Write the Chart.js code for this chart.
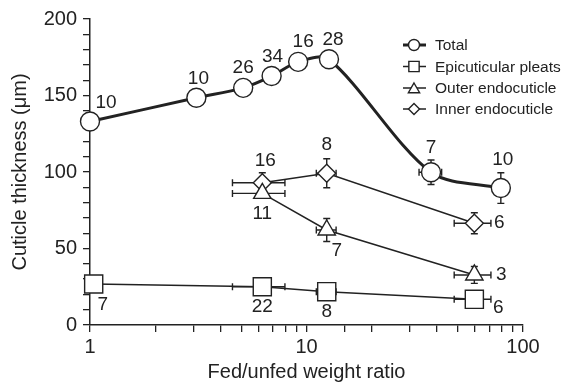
<!DOCTYPE html>
<html>
<head>
<meta charset="utf-8">
<script src="https://cdn.jsdelivr.net/npm/chart.js@4.4.1/dist/chart.umd.min.js"></script>
<style>
  html, body { margin: 0; padding: 0; background: #fff; }
  #wrap { width: 566px; height: 385px; }
</style>
</head>
<body>
<div id="wrap"><canvas id="chart" width="566" height="385"></canvas></div>
<script>
// values
const totalX = [1, 3.1, 5.1, 6.9, 9.15, 12.7, 37.6, 79];
const totalY = [133, 148.5, 155, 162.7, 172, 173.7, 99.8, 89.5];
const totalN = [10, 10, 26, 34, 16, 28, 7, 10];
const totalErrX = [0, 0, 0, 0, 0, 0, 4.5, 0];
const totalErrY = [0, 0, 0, 0, 0, 0, 8, 10];

const pleatsX = [1.04, 6.25, 12.4, 59.6];
const pleatsY = [26.8, 25, 21.8, 16.8];
const pleatsN = [7, 22, 8, 6];
const pleatsErrX = [0, 1.7, 1.3, 11.5];
const pleatsErrY = [0, 0, 0, 0];

const outerX = [6.25, 12.4, 59.6];
const outerY = [86, 62.1, 32.7];
const outerN = [11, 7, 3];
const outerErrX = [1.7, 1.3, 11.5];
const outerErrY = [0, 7.5, 5.5];

const innerX = [6.25, 12.4, 59.6];
const innerY = [93, 99.2, 66.5];
const innerN = [16, 8, 6];
const innerErrX = [1.7, 1.3, 11.5];
const innerErrY = [6.5, 9.5, 6.9];

const seriesNames = ["Total", "Epicuticular pleats", "Outer endocuticle", "Inner endocuticle"];
const xTickLabels = [1, 10, 100];
const yTickLabels = [0, 50, 100, 150, 200];

const FONT = "'Liberation Sans', Arial, Helvetica, sans-serif";

function pts(xs, ys) {
  return xs.map((x, i) => ({ x: x, y: ys[i] }));
}

// where the n labels sit relative to each marker (px)
const labelOffsets = [
  [[16, -19], [2, -19], [0, -20], [1, -19], [5, -20], [4, -19], [0, -25], [2, -28]],
  [[9, 21], [0, 20], [0, 20], [24, 8]],
  [[0, 20], [10, 21], [27, 0]],
  [[3, -22], [0, -28], [25, 0]]
];

const counts = [totalN, pleatsN, outerN, innerN];
const errorsX = [totalErrX, pleatsErrX, outerErrX, innerErrX];
const errorsY = [totalErrY, pleatsErrY, outerErrY, innerErrY];

const errorBars = {
  id: "errorBars",
  beforeDatasetsDraw(chart) {
    let ctx = chart.ctx;
    let xs = chart.scales.x, ys = chart.scales.y;
    ctx.save();
    ctx.strokeStyle = "#222";
    ctx.lineWidth = 1.4;
    chart.data.datasets.forEach((ds, d) => {
      ds.data.forEach((p, i) => {
        let px = xs.getPixelForValue(p.x);
        let py = ys.getPixelForValue(p.y);
        let ex = errorsX[d][i], ey = errorsY[d][i];
        let cap = 3.5;
        ctx.beginPath();
        if (ex > 0) {
          let x1 = xs.getPixelForValue(p.x - ex);
          let x2 = xs.getPixelForValue(p.x + ex);
          ctx.moveTo(x1, py); ctx.lineTo(x2, py);
          ctx.moveTo(x1, py - cap); ctx.lineTo(x1, py + cap);
          ctx.moveTo(x2, py - cap); ctx.lineTo(x2, py + cap);
        }
        if (ey > 0) {
          let y1 = ys.getPixelForValue(p.y - ey);
          let y2 = ys.getPixelForValue(p.y + ey);
          ctx.moveTo(px, y1); ctx.lineTo(px, y2);
          ctx.moveTo(px - cap, y1); ctx.lineTo(px + cap, y1);
          ctx.moveTo(px - cap, y2); ctx.lineTo(px + cap, y2);
        }
        ctx.stroke();
      });
    });
    ctx.restore();
  }
};

const annotations = {
  id: "annotations",
  afterDatasetsDraw(chart) {
    let ctx = chart.ctx;
    ctx.save();
    ctx.fillStyle = "#222";
    ctx.font = "19px " + FONT;
    ctx.textAlign = "center";
    ctx.textBaseline = "middle";
    chart.data.datasets.forEach((ds, d) => {
      let meta = chart.getDatasetMeta(d);
      meta.data.forEach((el, i) => {
        let off = labelOffsets[d][i];
        ctx.fillText(String(counts[d][i]), el.x + off[0], el.y + off[1]);
      });
    });

    // legend
    let lx1 = 403, lx2 = 426, mx = 414, tx = 435;
    let rows = [45, 66.5, 88, 109];
    ctx.textAlign = "left";
    ctx.font = "15.5px " + FONT;
    chart.data.datasets.forEach((ds, d) => {
      let y = rows[d];
      ctx.strokeStyle = "#222";
      ctx.lineWidth = d === 0 ? 3 : 1.5;
      ctx.beginPath();
      ctx.moveTo(lx1, y); ctx.lineTo(lx2, y);
      ctx.stroke();
      let opts = {
        pointStyle: ds.pointStyle,
        radius: [5.5, 7.3, 6.5, 5.5][d],
        rotation: 0,
        borderWidth: 1.4
      };
      ctx.fillStyle = "#fff";
      ctx.lineWidth = 1.4;
      Chart.helpers.drawPoint(ctx, opts, mx, y + (d === 2 ? 1.5 : 0));
      ctx.fillStyle = "#222";
      ctx.fillText(seriesNames[d], tx, y + 1);
    });
    ctx.restore();
  }
};

function series(label, xs, ys, style, radius, width, extra) {
  return Object.assign({
    label: label,
    data: pts(xs, ys),
    showLine: true,
    borderColor: "#222",
    borderWidth: width,
    pointStyle: style,
    pointRadius: radius,
    pointBackgroundColor: "#fff",
    pointBorderColor: "#222",
    pointBorderWidth: 1.4,
    clip: false
  }, extra || {});
}

new Chart(document.getElementById("chart"), {
  type: "line",
  data: {
    datasets: [
      series(seriesNames[0], totalX, totalY, "circle", 9.5, 3, { tension: 0.3 }),
      series(seriesNames[1], pleatsX, pleatsY, "rect", 12.8, 1.5),
      series(seriesNames[2], outerX, outerY, "triangle", 10, 1.5),
      series(seriesNames[3], innerX, innerY, "rectRot", 9, 1.5)
    ]
  },
  options: {
    responsive: false,
    animation: false,
    layout: { padding: { top: 19, right: 43, left: 0, bottom: 0 } },
    plugins: {
      legend: { display: false },
      tooltip: { enabled: false }
    },
    scales: {
      x: {
        type: "logarithmic",
        min: 1,
        max: 100,
        afterFit: s => { s.height = 60; },
        border: { display: true, color: "#222", width: 1.5 },
        grid: { drawOnChartArea: false, drawTicks: true, tickLength: 7, color: "#222", lineWidth: 1.3 },
        ticks: {
          autoSkip: false,
          maxRotation: 0,
          padding: 3,
          color: "#222",
          font: { family: FONT, size: 20 },
          callback: v => xTickLabels.includes(v) ? String(v) : ""
        },
        title: {
          display: true,
          text: "Fed/unfed weight ratio",
          color: "#222",
          font: { family: FONT, size: 20 },
          padding: { top: 0, bottom: 1 }
        }
      },
      y: {
        min: 0,
        max: 200,
        afterFit: s => { s.width = 90; },
        border: { display: true, color: "#222", width: 1.5 },
        grid: { drawOnChartArea: false, drawTicks: true, tickLength: 7, color: "#222", lineWidth: 1.3 },
        ticks: {
          stepSize: 10,
          autoSkip: false,
          padding: 6,
          color: "#222",
          font: { family: FONT, size: 20 },
          callback: v => yTickLabels.includes(v) ? String(v) : ""
        },
        title: {
          display: true,
          text: "Cuticle thickness (\u03bcm)",
          color: "#222",
          font: { family: FONT, size: 20 },
          padding: { top: 8, bottom: 0 }
        }
      }
    }
  },
  plugins: [errorBars, annotations]
});
</script>
</body>
</html>
